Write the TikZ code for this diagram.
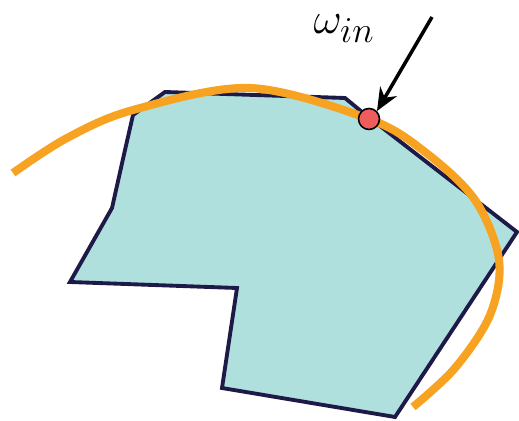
\documentclass[tikz,border=0pt]{standalone}
\usepackage{tikz}
\usetikzlibrary{arrows.meta}
\definecolor{regionfill}{RGB}{176,224,222}
\definecolor{regionline}{RGB}{30,26,72}
\definecolor{curveorange}{RGB}{247,162,32}
\definecolor{pointred}{RGB}{238,92,92}
\tikzset{
  region/.style={fill=regionfill, draw=regionline, line width=2.2pt, line join=miter},
  boundary/.style={draw=curveorange, line width=4.6pt, line cap=butt},
  inpoint/.style={circle, fill=pointred, draw=black, line width=0.9pt, minimum size=0.42cm, inner sep=0pt},
  pointer/.style={-{Stealth[length=13pt, width=11pt]}, line width=2pt, black}
}
\begin{document}
\begin{tikzpicture}[x=0.02cm, y=-0.02cm]
  \useasboundingbox (0,0) rectangle (519,421);
  % feasible region
  \draw[region] (165,92) -- (345,98) -- (362,112) -- (517,232) -- (395,417)
    -- (222,388) -- (237,288) -- (70,282) -- (112,208) -- (125,150)
    -- (133,115) -- cycle;
  % outer curve
  \draw[boundary] plot[smooth, tension=0.55] coordinates {(13,173) (67,138) (133,110)
    (250,88) (369,119) (425,152) (475,200) (499,260) (490,315) (455,368) (413,407)};
  % point on the curve
  \node[inpoint] (win) at (369,119) {};
  \coordinate (tail) at (432,17);
  \draw[pointer] (tail) -- (win.north east);
  \node[font=\fontsize{29}{34}\selectfont] (lbl) at (344,29) {$\omega_{in}$};
\end{tikzpicture}
\end{document}
